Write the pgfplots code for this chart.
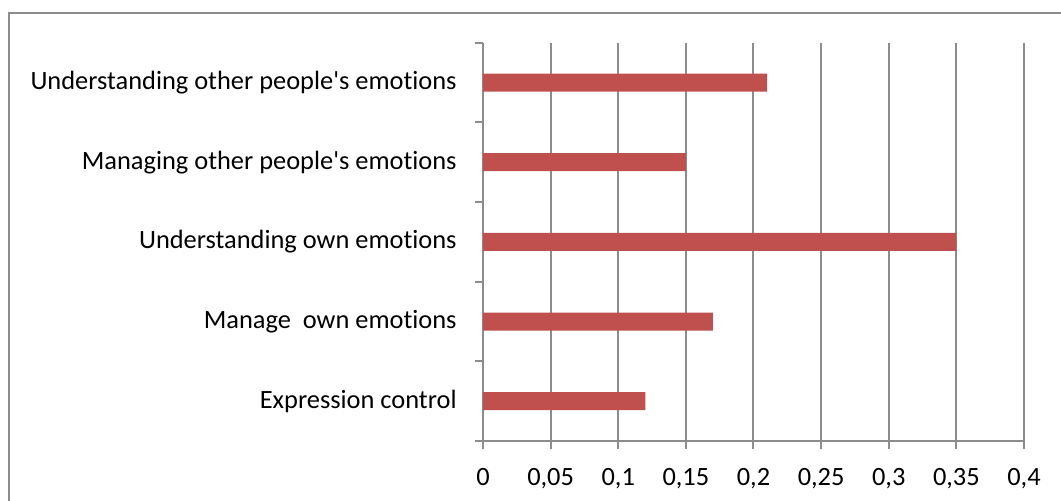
\documentclass[border=0pt]{standalone}
\usepackage{fontspec}
\setmainfont[Ligatures=NoCommon]{Carlito}
\usepackage{pgfplots}
\pgfplotsset{compat=1.18}
\definecolor{barred}{HTML}{C0504D}
\definecolor{gridgray}{HTML}{8C8C8C}
\begin{document}
\begin{tikzpicture}
\useasboundingbox (0,0) rectangle (530.5bp,250.5bp);
\clip (0,0) rectangle (530.5bp,250.5bp);
\draw[gridgray, line width=1bp] (4.5bp,-10bp) -- (4.5bp,244bp) -- (560bp,244bp);
\begin{axis}[
  at={(241.5bp,30bp)}, anchor=south west,
  scale only axis, width=270.5bp, height=199.15bp,
  xbar, bar width=9bp, bar shift=0pt,
  xmin=0, xmax=0.4, ymin=-0.5, ymax=4.5,
  axis x line*=bottom, axis y line*=left,
  axis line style={gridgray, line width=1bp, -},
  tick align=outside, major tick length=4bp,
  tick style={gridgray, line width=1bp},
  xmajorgrids, grid style={gridgray, line width=1bp},
  xtick={0,0.05,0.1,0.15,0.2,0.25,0.3,0.35,0.4},
  xticklabels={0,{0,05},{0,1},{0,15},{0,2},{0,25},{0,3},{0,35},{0,4}},
  ytick={-0.5,0.5,1.5,2.5,3.5,4.5},
  y tick label as interval,
  yticklabels={Expression control, Manage\ \ own emotions, Understanding own emotions, Managing other people\textquotesingle s emotions, Understanding other people\textquotesingle s emotions, {}},
  ticklabel style={font=\fontsize{13.2bp}{15bp}\selectfont, text=black},
  xticklabel style={yshift=-6bp},
  yticklabel style={inner xsep=9bp},
]
\addplot[fill=barred, draw=none] coordinates {(0.12,0) (0.17,1) (0.35,2) (0.15,3) (0.21,4)};
\end{axis}
\end{tikzpicture}
\end{document}
